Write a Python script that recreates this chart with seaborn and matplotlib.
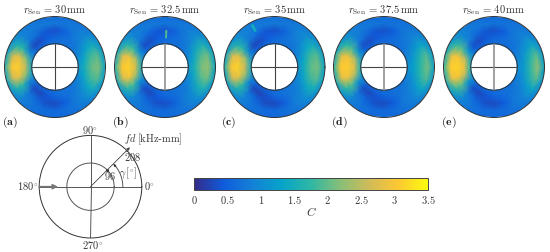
import numpy as np
import matplotlib
matplotlib.use("Agg")
import matplotlib.pyplot as plt
import seaborn as sns

# grid of the maps: fd [kHz-mm] and gamma [deg]
fd_rings = [96, 124, 152, 180, 208]
gamma_deg = [0, 15, 30, 45, 60, 75, 90, 105, 120, 135, 150, 165,
             180, 195, 210, 225, 240, 255, 270, 285, 300, 315, 330, 345]

# C values, one row per fd ring, one column per gamma
map_a = [
    [1.15, 1.00, 0.82, 0.70, 0.66, 0.68, 0.68, 0.66, 0.58, 0.58, 0.78, 1.15, 1.45, 1.15, 0.80, 0.58, 0.58, 0.64, 0.68, 0.68, 0.68, 0.72, 0.82, 1.00],
    [1.55, 1.38, 1.05, 0.80, 0.72, 0.66, 0.56, 0.46, 0.30, 0.30, 1.00, 2.20, 2.60, 2.20, 1.00, 0.30, 0.26, 0.42, 0.56, 0.66, 0.72, 0.80, 1.05, 1.38],
    [2.05, 1.85, 1.38, 0.92, 0.76, 0.48, 0.34, 0.40, 0.62, 0.80, 1.70, 2.85, 3.10, 2.85, 1.70, 0.76, 0.56, 0.34, 0.30, 0.44, 0.76, 0.92, 1.38, 1.85],
    [2.15, 1.98, 1.50, 0.98, 0.80, 0.74, 0.76, 0.80, 0.80, 0.90, 1.60, 2.65, 3.00, 2.65, 1.60, 0.88, 0.72, 0.62, 0.60, 0.66, 0.78, 0.98, 1.50, 1.98],
    [1.30, 1.22, 1.02, 0.82, 0.70, 0.68, 0.64, 0.66, 0.74, 0.85, 1.05, 1.35, 1.50, 1.35, 1.02, 0.80, 0.68, 0.62, 0.60, 0.62, 0.68, 0.82, 1.02, 1.22],
]
map_b = [
    [1.15, 1.00, 0.82, 0.70, 0.64, 0.66, 0.70, 0.66, 0.58, 0.58, 0.82, 1.20, 1.50, 1.20, 0.84, 0.58, 0.56, 0.62, 0.68, 0.68, 0.70, 0.74, 0.82, 1.00],
    [1.60, 1.42, 1.10, 0.80, 0.70, 0.64, 0.56, 0.44, 0.30, 0.34, 1.10, 2.35, 2.75, 2.35, 1.10, 0.32, 0.26, 0.44, 0.54, 0.64, 0.72, 0.82, 1.10, 1.42],
    [2.15, 1.95, 1.48, 0.94, 0.76, 0.50, 0.36, 0.42, 0.60, 0.82, 1.80, 2.95, 3.15, 3.00, 1.85, 0.78, 0.54, 0.34, 0.32, 0.48, 0.80, 0.96, 1.48, 1.95],
    [2.25, 2.10, 1.60, 1.04, 0.80, 0.74, 0.74, 0.78, 0.80, 0.92, 1.70, 2.70, 3.00, 2.70, 1.70, 0.92, 0.72, 0.62, 0.62, 0.68, 0.82, 1.04, 1.60, 2.10],
    [1.35, 1.28, 1.08, 0.86, 0.72, 0.66, 0.64, 0.66, 0.74, 0.88, 1.12, 1.45, 1.55, 1.45, 1.08, 0.82, 0.70, 0.62, 0.62, 0.64, 0.70, 0.85, 1.06, 1.26],
]
map_c = [
    [1.10, 0.98, 0.82, 0.72, 0.66, 0.68, 0.68, 0.64, 0.56, 0.54, 0.76, 1.15, 1.42, 1.15, 0.78, 0.54, 0.54, 0.62, 0.68, 0.68, 0.70, 0.74, 0.84, 0.98],
    [1.50, 1.36, 1.05, 0.82, 0.74, 0.66, 0.54, 0.44, 0.28, 0.28, 1.00, 2.25, 2.60, 2.25, 0.98, 0.28, 0.22, 0.38, 0.54, 0.66, 0.74, 0.82, 1.08, 1.36],
    [2.00, 1.85, 1.38, 0.94, 0.80, 0.50, 0.34, 0.40, 0.64, 0.82, 1.70, 2.85, 3.15, 2.85, 1.70, 0.76, 0.52, 0.30, 0.28, 0.44, 0.80, 0.94, 1.40, 1.85],
    [2.10, 1.98, 1.50, 1.04, 0.84, 0.76, 0.78, 0.80, 0.82, 0.92, 1.62, 2.65, 3.00, 2.65, 1.62, 0.92, 0.70, 0.60, 0.60, 0.68, 0.82, 1.04, 1.52, 1.98],
    [1.30, 1.22, 1.02, 0.85, 0.74, 0.70, 0.66, 0.68, 0.78, 0.90, 1.08, 1.32, 1.45, 1.32, 1.02, 0.80, 0.66, 0.60, 0.60, 0.64, 0.70, 0.85, 1.02, 1.22],
]
map_d = [
    [1.05, 0.92, 0.78, 0.68, 0.64, 0.64, 0.66, 0.64, 0.56, 0.56, 0.85, 1.25, 1.55, 1.25, 0.85, 0.58, 0.56, 0.62, 0.66, 0.66, 0.68, 0.68, 0.78, 0.92],
    [1.30, 1.18, 0.95, 0.76, 0.68, 0.62, 0.54, 0.42, 0.30, 0.36, 1.15, 2.40, 2.80, 2.40, 1.12, 0.32, 0.26, 0.40, 0.52, 0.62, 0.70, 0.78, 0.95, 1.18],
    [1.75, 1.62, 1.20, 0.86, 0.74, 0.46, 0.34, 0.40, 0.60, 0.84, 1.90, 2.95, 3.10, 2.95, 1.90, 0.76, 0.52, 0.34, 0.30, 0.44, 0.76, 0.88, 1.20, 1.62],
    [2.10, 1.95, 1.40, 0.92, 0.76, 0.72, 0.72, 0.76, 0.78, 0.94, 1.75, 2.80, 3.05, 2.80, 1.75, 0.94, 0.70, 0.60, 0.60, 0.64, 0.76, 0.92, 1.40, 1.95],
    [1.25, 1.15, 0.98, 0.78, 0.68, 0.64, 0.62, 0.64, 0.74, 0.90, 1.15, 1.50, 1.65, 1.50, 1.10, 0.82, 0.68, 0.62, 0.60, 0.62, 0.66, 0.78, 0.98, 1.15],
]
map_e = [
    [1.00, 0.90, 0.76, 0.68, 0.64, 0.64, 0.66, 0.64, 0.56, 0.56, 0.88, 1.30, 1.60, 1.30, 0.88, 0.58, 0.56, 0.62, 0.66, 0.66, 0.68, 0.68, 0.76, 0.90],
    [1.20, 1.10, 0.92, 0.74, 0.68, 0.62, 0.54, 0.42, 0.30, 0.38, 1.20, 2.50, 2.90, 2.50, 1.16, 0.34, 0.26, 0.40, 0.52, 0.62, 0.70, 0.76, 0.92, 1.10],
    [1.80, 1.60, 1.15, 0.84, 0.74, 0.46, 0.34, 0.40, 0.60, 0.88, 1.95, 3.00, 3.15, 3.00, 1.95, 0.80, 0.52, 0.34, 0.30, 0.44, 0.74, 0.86, 1.15, 1.60],
    [2.25, 2.00, 1.40, 0.92, 0.76, 0.72, 0.72, 0.76, 0.78, 0.96, 1.80, 2.85, 3.10, 2.85, 1.80, 0.96, 0.72, 0.60, 0.60, 0.64, 0.76, 0.92, 1.40, 2.00],
    [1.25, 1.15, 0.96, 0.78, 0.68, 0.64, 0.62, 0.64, 0.74, 0.92, 1.20, 1.55, 1.70, 1.55, 1.15, 0.85, 0.70, 0.62, 0.60, 0.62, 0.66, 0.78, 0.96, 1.15],
]
all_maps = [map_a, map_b, map_c, map_d, map_e]

r_sen = ["30", "32.5", "35", "37.5", "40"]
panel_tags = ["(a)", "(b)", "(c)", "(d)", "(e)"]

# single bad sensor streaks: panel, gamma, fd start, fd end, C
streak_panel = [1, 2, 2]
streak_gamma = [88, 118, 332]
streak_fd = [(118, 152), (165, 198), (168, 190)]
streak_c = [1.9, 1.45, 1.5]

cbar_ticks = [0, 0.5, 1, 1.5, 2, 2.5, 3, 3.5]
parula_colors = ["#352a87", "#0f5cdd", "#1481d6", "#06a4ca", "#2eb7a4",
                 "#87bf77", "#d1bb59", "#fec832", "#f9fb0e"]

W, H = 550, 252

sns.set_theme(style="white")
plt.rcParams["mathtext.fontset"] = "cm"
parula = sns.blend_palette(parula_colors, as_cmap=True)
norm = matplotlib.colors.Normalize(0, 3.5)

fig = plt.figure(figsize=(W / 100, H / 100), dpi=100)


def polar_axes(cx, cy, R):
    ax = fig.add_axes([(cx - R) / W, 1 - (cy + R) / H, 2 * R / W, 2 * R / H],
                      projection="polar")
    ax.set_rlim(0, 208)
    ax.set_xticks([])
    ax.set_yticks([])
    ax.grid(False)
    ax.spines["polar"].set_linewidth(0.7)
    ax.spines["polar"].set_color("#333333")
    return ax


centers = [55, 165, 274.5, 384, 494]
theta = np.deg2rad(gamma_deg + [360])
vert_gray = [False, True, False, True, True]
ring = np.linspace(0, 2 * np.pi, 200)
mesh = None

for i, cx in enumerate(centers):
    ax = polar_axes(cx, 67, 50.5)
    vals = np.array(all_maps[i])
    vals = np.c_[vals, vals[:, 0]]
    mesh = ax.pcolormesh(theta, fd_rings, vals, cmap=parula, norm=norm, shading="gouraud")
    ax.set_rlim(0, 208)

    for p, g, (f0, f1), c in zip(streak_panel, streak_gamma, streak_fd, streak_c):
        if p == i:
            ax.bar(np.deg2rad(g), f1 - f0, width=np.deg2rad(3.5), bottom=f0,
                   color=parula(norm(c)), linewidth=0)

    # inner hole with its cross
    ax.plot(ring, np.full(200, 96), color="#333333", lw=0.7)
    ax.plot([0, 0], [0, 96], color="#444444", lw=0.8)
    ax.plot([np.pi, np.pi], [0, 96], color="#444444", lw=0.8)
    v_col = "#888888" if vert_gray[i] else "#444444"
    v_lw = 1.1 if vert_gray[i] else 0.8
    ax.plot([np.pi / 2, np.pi / 2], [0, 96], color=v_col, lw=v_lw)
    ax.plot([-np.pi / 2, -np.pi / 2], [0, 96], color=v_col, lw=v_lw)

    fig.text(cx / W, 1 - 10 / H,
             r"$r_{\mathrm{Sen}}\,=\,%s\,\mathrm{mm}$" % r_sen[i],
             ha="center", va="center", fontsize=7.6, color="#333333")

tag_x = [10, 120, 229, 339, 449]
for x, tag in zip(tag_x, panel_tags):
    fig.text(x / W, 1 - 122 / H, r"$\mathbf{%s}$" % tag, ha="center", va="center",
             fontsize=8.5, color="#222222")

# coordinate sketch
ax = polar_axes(90.5, 186.7, 51.3)
line = dict(color="#555555", lw=0.7)
ax.plot(ring, np.full(200, 96), **line)
for a in [0, 90, 180, 270]:
    ax.plot([np.deg2rad(a)] * 2, [0, 208], **line)
ax.annotate("", xy=(np.pi, 132), xytext=(np.pi, 208),
            arrowprops=dict(arrowstyle="-|>", color="#777777", lw=1.2, mutation_scale=7,
                            shrinkA=0, shrinkB=0))
ax.annotate("", xy=(np.pi / 4, 226), xytext=(np.pi / 4, 0), annotation_clip=False,
            arrowprops=dict(arrowstyle="-|>", color="#444444", lw=0.6, mutation_scale=4,
                            shrinkA=0, shrinkB=0))
arc = np.deg2rad(np.linspace(0, 42, 30))
ax.plot(arc, np.full(30, 131), **line)
ax.annotate("", xy=(np.pi / 4, 131), xytext=(np.deg2rad(38), 131),
            arrowprops=dict(arrowstyle="-|>", color="#333333", lw=0.5, mutation_scale=3.5,
                            shrinkA=0, shrinkB=0))
ax.plot([np.pi / 4, np.pi / 4], [96, 208], ls="none", marker="o", ms=1.2, color="#333333")

sketch_labels = [
    (90.5, 129.5, r"$90^{\circ}$"), (149, 186.5, r"$0^{\circ}$"),
    (28, 186.5, r"$180^{\circ}$"), (93, 245, r"$270^{\circ}$"),
    (153, 139.5, r"$fd\;[\mathrm{kHz}$-$\mathrm{mm}]$"), (132.7, 157, r"$208$"),
    (110, 176, r"$96$"), (128.5, 173, r"$\gamma\,[^{\circ}]$"),
]
for x, y, s in sketch_labels:
    fig.text(x / W, 1 - y / H, s, ha="center", va="center", fontsize=7.5, color="#333333")

# colorbar
cax = fig.add_axes([194 / W, 1 - 190 / H, 234 / W, 11.7 / H])
cb = fig.colorbar(mesh, cax=cax, orientation="horizontal")
cb.set_ticks(cbar_ticks)
cb.set_ticklabels([f"${t:g}$" for t in cbar_ticks])
cb.ax.tick_params(direction="in", length=2.5, width=0.5, color="#555555", labelsize=7.5,
                  labelcolor="#333333", pad=3, bottom=True)
cb.outline.set_linewidth(0.7)
cb.outline.set_edgecolor("#444444")
cb.set_label(r"$C$", fontsize=8.5, labelpad=0, color="#333333")

fig.savefig("out.png", dpi=100)
